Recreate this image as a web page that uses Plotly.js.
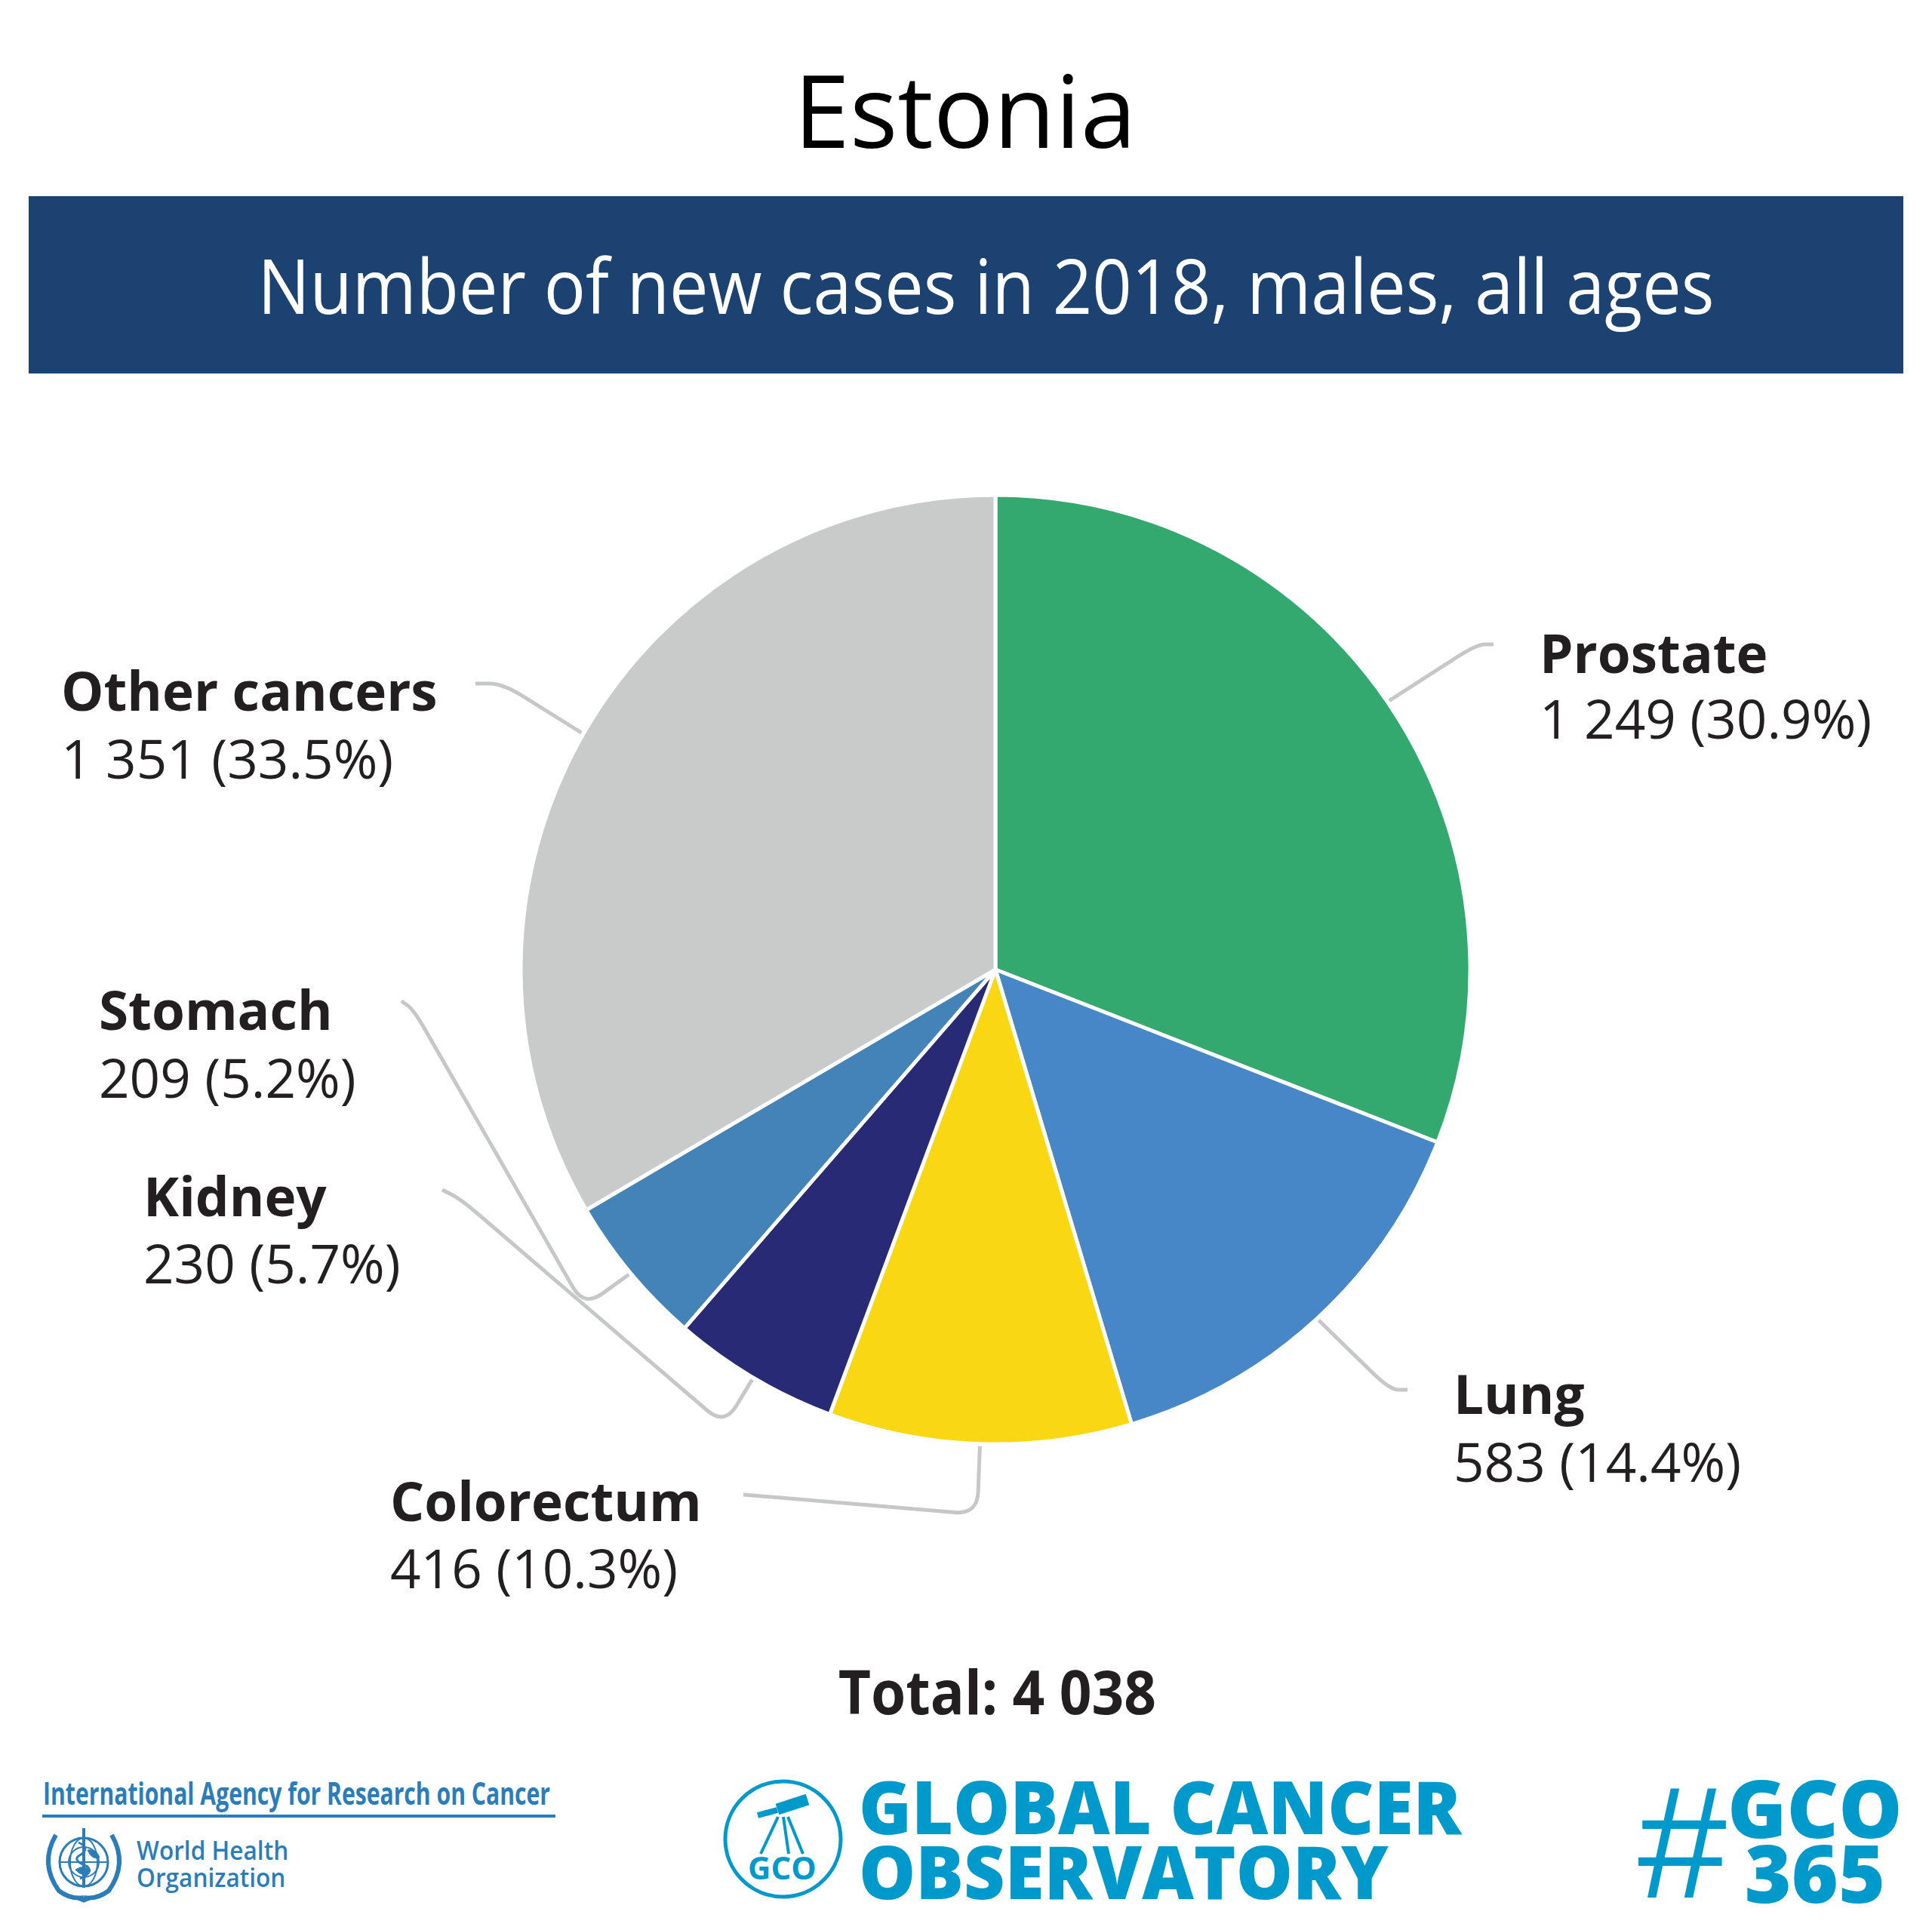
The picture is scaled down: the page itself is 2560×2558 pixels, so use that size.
<!DOCTYPE html>
<html>
<head>
<meta charset="utf-8">
<script src="https://cdn.plot.ly/plotly-3.0.1.min.js"></script>
<style>html,body{margin:0;padding:0;background:#fff;}#chart{width:2560px;height:2558px;}</style>
</head>
<body>
<div id="chart"></div>
<script>
// ---- data ----
const categories = ["Prostate", "Lung", "Colorectum", "Kidney", "Stomach", "Other cancers"];
const cases = [1249, 583, 416, 230, 209, 1351];
const percents = ["30.9%", "14.4%", "10.3%", "5.7%", "5.2%", "33.5%"];
const caseLabels = ["1 249", "583", "416", "230", "209", "1 351"];
const totalLabel = "4 038";
const colors = ["#34A96F", "#4787C7", "#F9D712", "#282A76", "#4483B7", "#C9CBCA"];

// ---- layout geometry (pixels) ----
const W = 2560, H = 2558;
const CX = 1319, CY = 1285, R = 629;

// label placement: [x, name cap-center y, value cap-center y]
const labelPos = {
  "Prostate": [2038, 864, 951],
  "Lung": [1924, 1846, 1936],
  "Colorectum": [515, 1988, 2077],
  "Kidney": [188, 1584, 1673],
  "Stomach": [129, 1337, 1427],
  "Other cancers": [79, 914, 1004]
};
// leader-line corner points (after the slice edge point)
const leaderPts = {
  "Prostate": [[1957, 854], [1979, 854]],
  "Lung": [[1842, 1842], [1865, 1842]],
  "Colorectum": [[1295, 2007], [985, 1981]],
  "Kidney": [[960, 1889], [610, 1589], [586, 1577]],
  "Stomach": [[774, 1732], [548, 1338], [532, 1327]],
  "Other cancers": [[666, 906], [630, 906]]
};

function roundedPath(pts, rad) {
  let d = "M" + pts[0][0].toFixed(1) + "," + pts[0][1].toFixed(1);
  for (let i = 1; i < pts.length - 1; i++) {
    const A = pts[i - 1], P = pts[i], B = pts[i + 1];
    const l1 = Math.hypot(P[0] - A[0], P[1] - A[1]);
    const l2 = Math.hypot(B[0] - P[0], B[1] - P[1]);
    const r1 = Math.min(rad, l1 / 2), r2 = Math.min(rad, l2 / 2);
    const p1 = [P[0] - (P[0] - A[0]) / l1 * r1, P[1] - (P[1] - A[1]) / l1 * r1];
    const p2 = [P[0] + (B[0] - P[0]) / l2 * r2, P[1] + (B[1] - P[1]) / l2 * r2];
    d += " L" + p1[0].toFixed(1) + "," + p1[1].toFixed(1) + " Q" + P[0] + "," + P[1] + " " + p2[0].toFixed(1) + "," + p2[1].toFixed(1);
  }
  const L = pts[pts.length - 1];
  d += " L" + L[0] + "," + L[1];
  return d;
}

const total = cases.reduce((a, b) => a + b, 0);
const shapes = [];
const annotations = [];
const squeeze = {};  // annotation index -> horizontal scale
const lineFix = {};  // annotation index -> [baseline of line 1, baseline of line 2] (px)
const dark = "#231F20";
const fontFam = "Open Sans, Noto Sans, sans-serif";
function addAnn(a, sx, lf) {
  annotations.push(Object.assign({xref: "x", yref: "y", showarrow: false, yanchor: "middle"}, a));
  const i = annotations.length - 1;
  if (sx) squeeze[i] = sx;
  if (lf) lineFix[i] = lf;
}

// banner
shapes.push({type: "rect", xref: "x", yref: "y", x0: 38, x1: 2522, y0: 260, y1: 495,
  fillcolor: "#1B4271", line: {width: 0}, layer: "below"});

// leader lines from the middle of each slice + labels
let cum = 0;
categories.forEach((c, i) => {
  const mid = (cum + cases[i] / 2) / total * 2 * Math.PI;
  cum += cases[i];
  const S = [CX + (R + 3) * Math.sin(mid), CY - (R + 3) * Math.cos(mid)];
  const pts = [S].concat(leaderPts[c]);
  shapes.push({type: "path", xref: "x", yref: "y", path: roundedPath(pts, 30),
    line: {color: "#C6C7C7", width: 5}, layer: "above"});
  const lp = labelPos[c];
  addAnn({x: lp[0], y: lp[1], xanchor: "left", text: "<b>" + c + "</b>",
    font: {family: fontFam, size: 71, color: dark}});
  addAnn({x: lp[0], y: lp[2], xanchor: "left", text: caseLabels[i] + " (" + percents[i] + ")",
    font: {family: fontFam, size: 71, color: dark}});
});

// titles
addAnn({x: 1279, y: 144, xanchor: "center", text: "Estonia", font: {family: fontFam, size: 133, color: "#000"}});
addAnn({x: 1306, y: 377, xanchor: "center", text: "Number of new cases in 2018, males, all ages",
  font: {family: fontFam, size: 100, color: "#fff"}}, 0.918);
addAnn({x: 1321, y: 2240, xanchor: "center", text: "<b>Total: " + totalLabel + "</b>",
  font: {family: fontFam, size: 80, color: dark}}, 0.935);

// footer: IARC / WHO
const iarcBlue = "#2A7DB9";
addAnn({x: 55, y: 2376, xanchor: "left", text: "<b>International Agency for Research on Cancer</b>",
  font: {family: fontFam, size: 41, color: iarcBlue}}, 0.735);
shapes.push({type: "line", xref: "x", yref: "y", x0: 56, x1: 736, y0: 2407, y1: 2407, line: {color: iarcBlue, width: 4}});
addAnn({x: 179, y: 2470, xanchor: "left", align: "left", text: "World Health<br>Organization",
  font: {family: fontFam, size: 34, color: iarcBlue, weight: 600}}, 0.93, [2465, 2501]);
// WHO emblem (approximation)
shapes.push({type: "circle", xref: "x", yref: "y", x0: 79, x1: 143, y0: 2436, y1: 2500, line: {color: iarcBlue, width: 3}});
shapes.push({type: "circle", xref: "x", yref: "y", x0: 93, x1: 129, y0: 2436, y1: 2500, line: {color: iarcBlue, width: 2}});
shapes.push({type: "circle", xref: "x", yref: "y", x0: 91, x1: 131, y0: 2448, y1: 2488, line: {color: iarcBlue, width: 2}});
shapes.push({type: "line", xref: "x", yref: "y", x0: 79, x1: 143, y0: 2468, y1: 2468, line: {color: iarcBlue, width: 2}});
shapes.push({type: "path", xref: "x", yref: "y", path: "M100,2478 Q110,2490 120,2480 Q112,2470 100,2478 Z", fillcolor: iarcBlue, line: {color: iarcBlue, width: 1}});
shapes.push({type: "path", xref: "x", yref: "y", path: "M116,2452 Q128,2450 132,2462 Q122,2466 116,2452 Z", fillcolor: iarcBlue, line: {color: iarcBlue, width: 1}});
shapes.push({type: "line", xref: "x", yref: "y", x0: 111, x1: 111, y0: 2423, y1: 2502, line: {color: iarcBlue, width: 4}});
shapes.push({type: "path", xref: "x", yref: "y", path: "M104,2442 Q122,2450 104,2460 Q96,2466 116,2474 Q124,2482 106,2490", line: {color: iarcBlue, width: 3}});
shapes.push({type: "path", xref: "x", yref: "y", path: "M74,2432 Q52,2470 78,2506 Q94,2518 111,2515", line: {color: iarcBlue, width: 6}});
shapes.push({type: "path", xref: "x", yref: "y", path: "M148,2432 Q170,2470 144,2506 Q128,2518 111,2515", line: {color: iarcBlue, width: 6}});
shapes.push({type: "path", xref: "x", yref: "y", path: "M92,2512 L111,2520 L130,2512", line: {color: iarcBlue, width: 3}});

// footer: GCO logo
const gcoBlue = "#0099CC";
shapes.push({type: "circle", xref: "x", yref: "y", x0: 961, x1: 1114, y0: 2361, y1: 2514, line: {color: gcoBlue, width: 5}});
shapes.push({type: "line", xref: "x", yref: "y", x0: 1004, x1: 1030, y0: 2406, y1: 2399, line: {color: gcoBlue, width: 8}});
shapes.push({type: "line", xref: "x", yref: "y", x0: 1030, x1: 1070, y0: 2398, y1: 2385, line: {color: gcoBlue, width: 15}});
shapes.push({type: "line", xref: "x", yref: "y", x0: 1031, x1: 1008, y0: 2408, y1: 2457, line: {color: gcoBlue, width: 4}});
shapes.push({type: "line", xref: "x", yref: "y", x0: 1038, x1: 1045, y0: 2408, y1: 2457, line: {color: gcoBlue, width: 4}});
shapes.push({type: "line", xref: "x", yref: "y", x0: 1044, x1: 1064, y0: 2408, y1: 2457, line: {color: gcoBlue, width: 4}});
addAnn({x: 1036, y: 2474, xanchor: "center", text: "<b>GCO</b>", font: {family: fontFam, size: 42, color: gcoBlue}});
addAnn({x: 1136, y: 2436, xanchor: "left", align: "left", text: "GLOBAL CANCER<br>OBSERVATORY",
  font: {family: fontFam, size: 98, color: gcoBlue, weight: 800}}, 0.965, [2431, 2517]);
addAnn({x: 2229, y: 2441, xanchor: "center", height: 200, width: 116, text: "#",
  font: {family: "Liberation Sans, Arial, sans-serif", size: 212, color: gcoBlue}});
addAnn({x: 2405, y: 2438, xanchor: "center", align: "center", text: "GCO<br>365",
  font: {family: fontFam, size: 106, color: gcoBlue, weight: 800}}, null, [2436, 2522]);

const data = [
  {type: "scatter", x: [], y: [], hoverinfo: "skip", showlegend: false},
  {
    type: "pie",
    labels: categories,
    values: cases,
    sort: false,
    direction: "clockwise",
    rotation: 0,
    textinfo: "none",
    hoverinfo: "skip",
    showlegend: false,
    marker: {colors: colors, line: {color: "#ffffff", width: 5}},
    domain: {x: [(CX - R) / W, (CX + R) / W], y: [(H - CY - R) / H, (H - CY + R) / H]}
  }
];

const layout = {
  width: W, height: H,
  margin: {l: 0, r: 0, t: 0, b: 0, pad: 0},
  paper_bgcolor: "#fff", plot_bgcolor: "rgba(0,0,0,0)",
  showlegend: false,
  xaxis: {range: [0, W], visible: false, fixedrange: true},
  yaxis: {range: [H, 0], visible: false, fixedrange: true},
  shapes: shapes,
  annotations: annotations
};

Plotly.newPlot("chart", data, layout, {displayModeBar: false, staticPlot: true}).then(function () {
  document.querySelectorAll("#chart g.annotation").forEach(function (g) {
    const idx = +g.getAttribute("data-index");
    const s = squeeze[idx], lf = lineFix[idx];
    if (!s && !lf) return;
    const t = g.querySelector("text.annotation-text");
    if (!t) return;
    let tf = t.getAttribute("transform") || "";
    if (lf) {
      const lines = t.querySelectorAll("tspan.line");
      if (lines.length > 1) {
        lines[0].setAttribute("dy", "0px");
        lines[1].setAttribute("dy", (lf[1] - lf[0]) + "px");
      }
      try {
        const p = t.getStartPositionOfChar(0);
        const m = t.getCTM();
        const by = m.b * p.x + m.d * p.y + m.f;
        tf += " translate(0," + (lf[0] - by).toFixed(2) + ")";
      } catch (e) {}
    }
    if (s) {
      const bb = t.getBBox();
      const anchor = annotations[idx].xanchor;
      const ox = anchor === "left" ? bb.x : bb.x + bb.width / 2;
      tf += " translate(" + ox + ",0) scale(" + s + ",1) translate(" + (-ox) + ",0)";
    }
    t.setAttribute("transform", tf);
  });
});
</script>
</body>
</html>
